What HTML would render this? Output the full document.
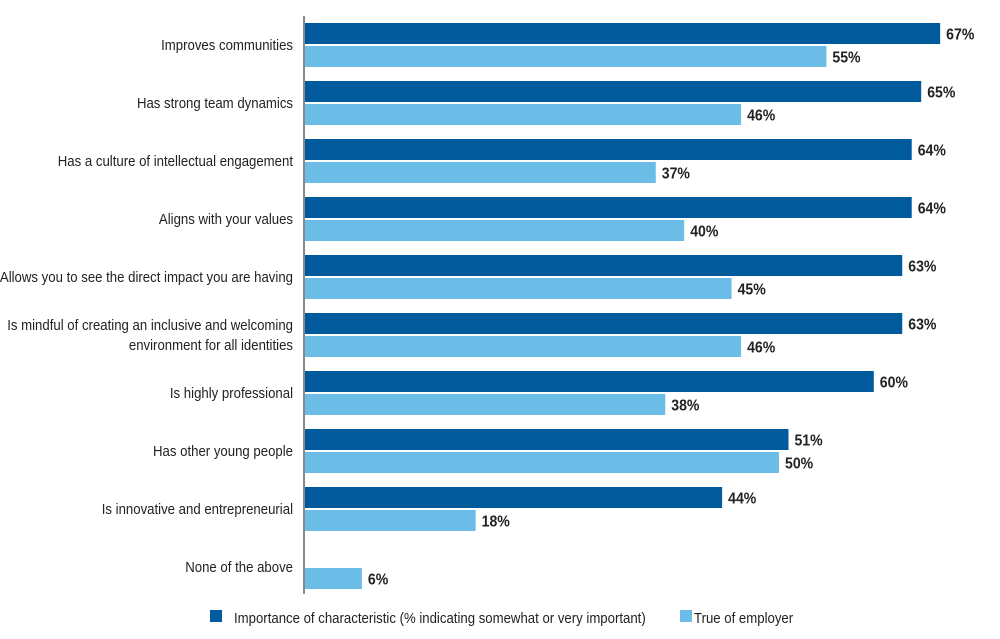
<!DOCTYPE html>
<html><head><meta charset="utf-8"><style>
body{margin:0;background:#fff;}
svg{display:block;font-family:"Liberation Sans",sans-serif;}
</style></head><body>
<svg id="chart" width="1000" height="639"></svg>
<script>
const categories=["Improves communities","Has strong team dynamics","Has a culture of intellectual engagement","Aligns with your values","Allows you to see the direct impact you are having","Is mindful of creating an inclusive and welcoming|environment for all identities","Is highly professional","Has other young people","Is innovative and entrepreneurial","None of the above"];
const importance=[67,65,64,64,63,63,60,51,44,null];
const trueOfEmployer=[55,46,37,40,45,46,38,50,18,6];
const seriesNames=["Importance of characteristic (% indicating somewhat or very important)","True of employer"];
const NS="http://www.w3.org/2000/svg";
const svg=document.getElementById('chart');
const x0=305, perPct=9.48, top0=23, pitch=58, bh=21, sx=0.88;
const xs=v=>x0+v*perPct;
function el(t,a,txt){const e=document.createElementNS(NS,t);for(const k in a)e.setAttribute(k,a[k]);if(txt!=null)e.textContent=txt;svg.appendChild(e);return e;}
function ntext(x,y,a,txt){a.x=0;a.y=0;a.transform=`translate(${x},${y}) scale(${sx},1)`;return el('text',a,txt);}
categories.forEach((c,i)=>{
  const y=top0+i*pitch;
  const lines=c.split('|');
  const cy=y+bh+1;
  lines.forEach((ln,j)=>{
    const t=ntext(293,cy+5+(j-(lines.length-1)/2)*20,{'text-anchor':'end','font-size':15,fill:'#222'},ln);
    
    
  });
  [[importance[i],y,'#005a9c','bar-importance'],[trueOfEmployer[i],y+23,'#6bbde8','bar-true-of-employer']].forEach(([v,by,col,nm])=>{
    if(v==null)return;
    const r=el('rect',{x:x0,y:by,width:xs(v)-x0,height:bh,fill:col});
    
    
    const t=ntext(xs(v)+6,by+bh/2+6,{'font-size':16,'font-weight':'bold',fill:'#222'},v+'%');
    
    
  });
});
const ax=el('line',{x1:304,y1:16,x2:304,y2:594,stroke:'#888','stroke-width':2});


[[210,'#005a9c',234],[680,'#6bbde8',694]].forEach(([lx,col,tx],k)=>{
  const r=el('rect',{x:lx,y:610,width:12,height:12,fill:col});
  
  
  const t=ntext(tx,623,{'font-size':15,fill:'#222'},seriesNames[k]);
  
  
});
</script>
</body></html>
